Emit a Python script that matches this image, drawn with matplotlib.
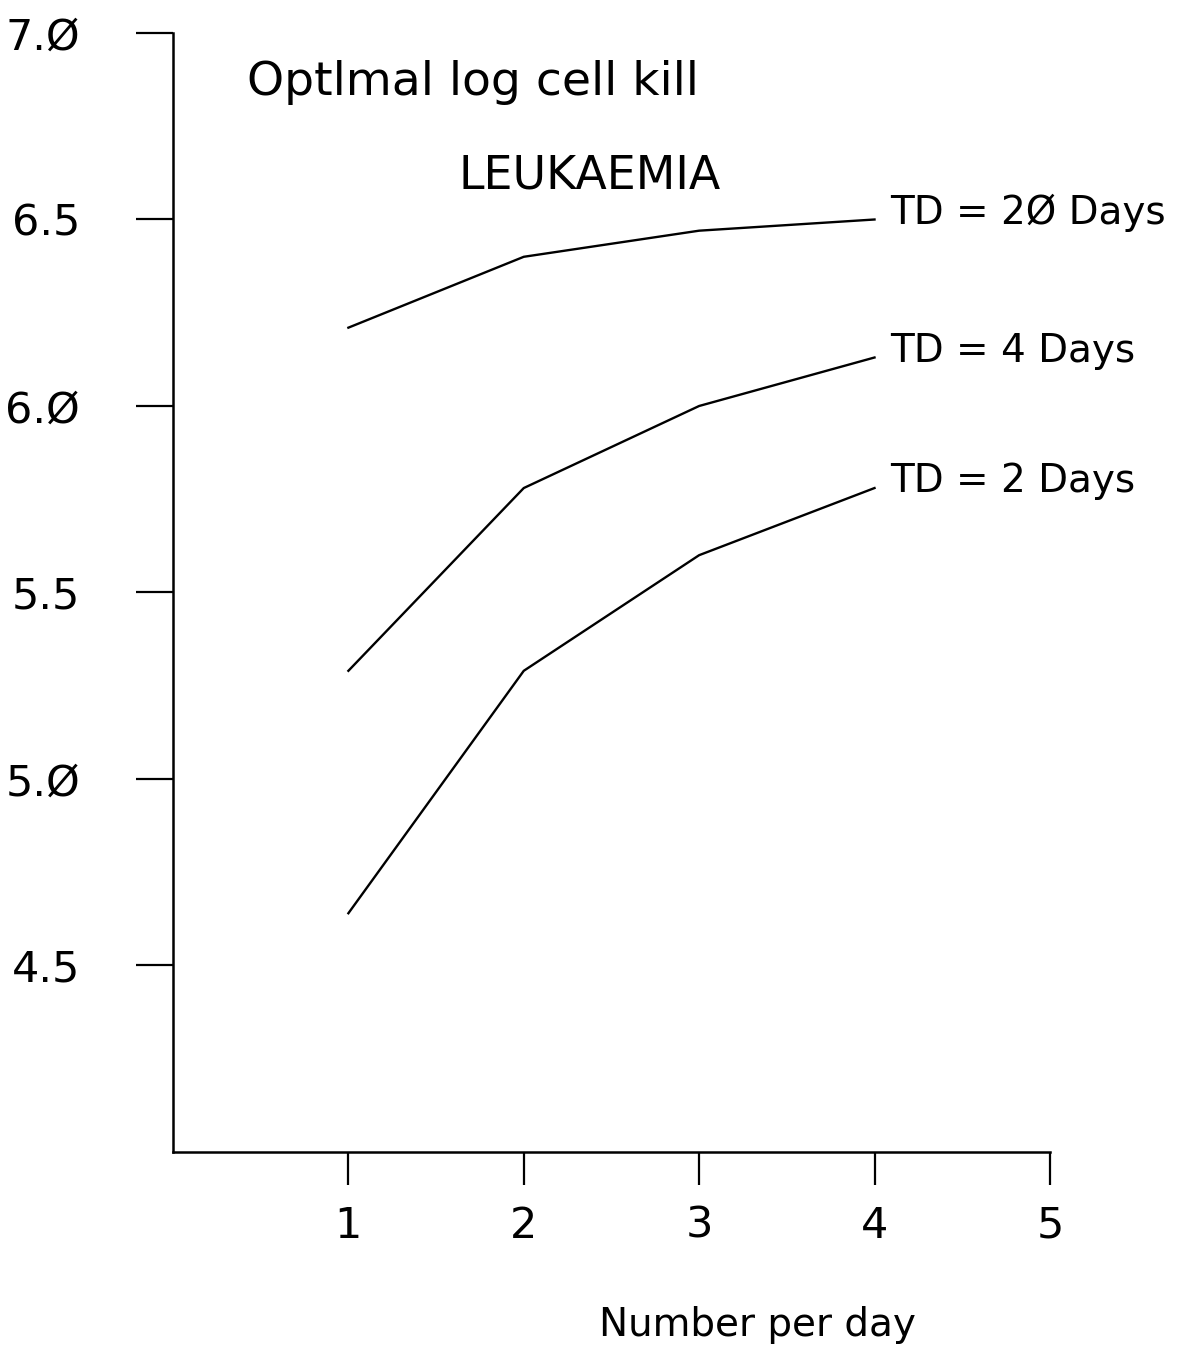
import matplotlib.pyplot as plt

# doses per day and optimal log cell kill for each doubling time
number_per_day = [1, 2, 3, 4]
kill_td20 = [6.21, 6.40, 6.47, 6.50]
kill_td4 = [5.29, 5.78, 6.00, 6.13]
kill_td2 = [4.64, 5.29, 5.60, 5.78]
curve_labels = ["TD = 2\u00d8 Days", "TD = 4 Days", "TD = 2 Days"]

y_ticks = [4.5, 5.0, 5.5, 6.0, 6.5, 7.0]
y_tick_labels = ["4.5", "5.\u00d8", "5.5", "6.\u00d8", "6.5", "7.\u00d8"]
x_ticks = [1, 2, 3, 4, 5]
x_tick_labels = ["1", "2", "3", "4", "5"]

plt.rcParams['font.family'] = ['DejaVu Sans']
plt.rcParams['font.size'] = 31

fig = plt.figure(figsize=(11.77, 13.47), dpi=100)
ax = fig.add_axes([0.147, 0.1448, 0.745, 0.8307])

for ys, lab in zip([kill_td20, kill_td4, kill_td2], curve_labels):
    ax.plot(number_per_day, ys, color='black', lw=1.7)
    ax.annotate(lab, (number_per_day[-1], ys[-1]), xytext=(11, -3),
                textcoords='offset points', ha='left', va='baseline',
                fontsize=28)

ax.set_xlim(0, 5)
ax.set_ylim(4.0, 7.0)
ax.spines['top'].set_visible(False)
ax.spines['right'].set_visible(False)
for s in ['left', 'bottom']:
    ax.spines[s].set_linewidth(1.8)

ax.set_yticks(y_ticks, y_tick_labels)
ax.set_xticks(x_ticks, x_tick_labels)
ax.tick_params(axis='y', direction='out', length=27, width=1.6, pad=40)
ax.tick_params(axis='x', direction='out', length=24, width=1.6, pad=14)

ax.text(0.42, 6.834, "Optlmal log cell kill", ha='left', va='baseline',
        fontsize=34)
ax.text(1.63, 6.584, "LEUKAEMIA", ha='left', va='baseline', fontsize=33)

ax.set_xlabel("Number per day", va='center', fontsize=28)
ax.xaxis.set_label_coords(0.666, -0.1546)

fig.savefig("out.png", dpi=100)
